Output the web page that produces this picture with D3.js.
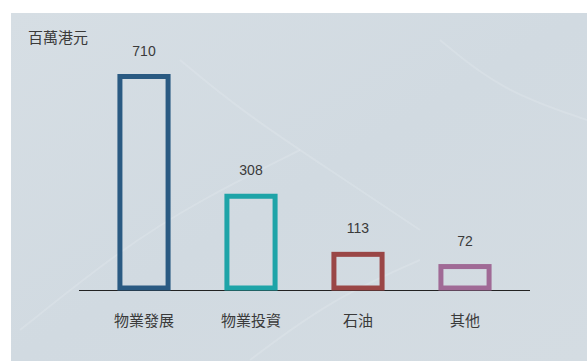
<!DOCTYPE html>
<html><head><meta charset="utf-8">
<script src="https://cdn.jsdelivr.net/npm/d3@7"></script>
<style>html,body{margin:0;padding:0;background:#fff;}svg{display:block;}</style>
</head><body>
<script>
const categories = ["物業發展", "物業投資", "石油", "其他"];
const values = [710, 308, 113, 72];
const colors = ["#2a5a82", "#1ea4a8", "#9a4646", "#a06a96"];
const unitLabel = "百萬港元";

const W = 587, H = 361;
const svg = d3.select("body").append("svg").attr("width", W).attr("height", H);
const defs = svg.append("defs");
const g1 = defs.append("linearGradient").attr("id","bg").attr("x1","0").attr("y1","0").attr("x2","1").attr("y2","1");
g1.append("stop").attr("offset","0").attr("stop-color","#d6dee4");
g1.append("stop").attr("offset","0.5").attr("stop-color","#d1dae1");
g1.append("stop").attr("offset","1").attr("stop-color","#d4dce2");
svg.append("rect").attr("x",11).attr("y",13).attr("width",W-11).attr("height",H-13).attr("fill","url(#bg)");
// subtle marble veins
const veins = [[[20,330],[120,250],[200,200],[300,150]],[[250,360],[330,300],[420,260]],[[180,60],[240,110],[330,170],[420,230]],[[440,40],[500,90],[587,120]]];
const vl = d3.line().curve(d3.curveBasis);
svg.append("g").selectAll("path").data(veins).join("path").attr("d",vl)
  .attr("fill","none").attr("stroke","#eef2f5").attr("stroke-width",2).attr("opacity",0.22);

const x = d3.scaleBand().domain(categories).range([90.5, 518.5]).paddingInner(0.55).paddingOuter(0.275);
const y = d3.scaleLinear().domain([0, 710]).range([288, 76.5]);

svg.append("line").attr("x1",79).attr("x2",530).attr("y1",290.5).attr("y2",290.5).attr("stroke","#222").attr("stroke-width",1.2);

svg.append("g").selectAll("rect").data(values).join("rect")
  .attr("x",(d,i)=>x(categories[i]))
  .attr("width",x.bandwidth())
  .attr("y",d=>y(d))
  .attr("height",d=>y(0)-y(d))
  .attr("fill","none")
  .attr("stroke",(d,i)=>colors[i])
  .attr("stroke-width",5);

svg.append("g").selectAll("text").data(values).join("text")
  .attr("x",(d,i)=>x(categories[i])+x.bandwidth()/2)
  .attr("y",d=>y(d)-21)
  .attr("text-anchor","middle")
  .attr("font-family","Liberation Sans, Arial, sans-serif")
  .attr("font-size",14).attr("fill","#3a3a3a")
  .text(d=>d);

svg.append("g").selectAll("text").data(categories).join("text")
  .attr("x",d=>x(d)+x.bandwidth()/2)
  .attr("y",326)
  .attr("text-anchor","middle")
  .attr("font-family","Noto Sans CJK TC, sans-serif")
  .attr("font-size",15).attr("fill","#3a3a3a")
  .text(d=>d);

svg.append("text").attr("x",28).attr("y",43)
  .attr("font-family","Noto Sans CJK TC, sans-serif")
  .attr("font-size",15).attr("fill","#3a3a3a").text(unitLabel);
</script>
</body></html>
